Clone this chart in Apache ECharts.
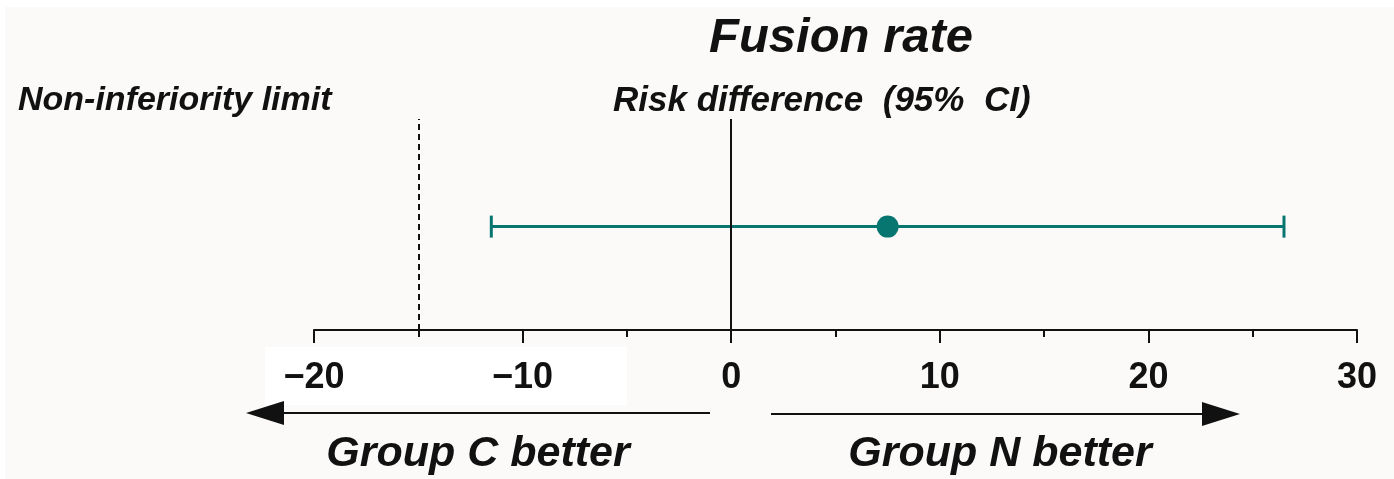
<!DOCTYPE html>
<html>
<head>
<meta charset="utf-8">
<script src="https://cdn.jsdelivr.net/npm/echarts@6/dist/echarts.min.js"></script>
<style>
  html, body { margin: 0; padding: 0; background: #ffffff; }
  #chart { width: 1394px; height: 479px; }
</style>
</head>
<body>
<div id="chart"></div>
<script>
// forest-plot style data (risk difference, %)
const rowNames = ['Fusion rate'];
const estimates = [7.5];
const ciLower = [-11.5];
const ciUpper = [26.5];
const rowY = [0.49];
const nonInferiorityLimit = [-15];
const axisTicks = [-20, -10, 0, 10, 20, 30];

const teal = '#087670';
const FONT = '"Liberation Sans", Arial, sans-serif';

const chart = echarts.init(document.getElementById('chart'), null, { renderer: 'canvas' });

const errorData = rowY.map((y, i) => [ciLower[i], ciUpper[i], y]);
const pointData = rowY.map((y, i) => [estimates[i], y]);

const option = {
  backgroundColor: '#ffffff',
  animation: false,
  title: {
    text: rowNames[0],
    left: 836,
    top: 9,
    textAlign: 'center',
    textStyle: {
      fontFamily: FONT,
      fontSize: 49,
      fontWeight: 'bold',
      fontStyle: 'italic',
      color: '#111',
    },
  },
  grid: {
    left: 314,
    right: 37,
    top: 119,
    bottom: 149,
  },
  xAxis: {
    type: 'value',
    min: axisTicks[0],
    max: axisTicks[axisTicks.length - 1],
    interval: 10,
    axisLine: { show: true, onZero: false, lineStyle: { color: '#111', width: 2 } },
    axisTick: { show: true, length: 13, lineStyle: { color: '#111', width: 2 } },
    minorTick: { show: true, splitNumber: 2, length: 7, lineStyle: { color: '#111', width: 2 } },
    splitLine: { show: false },
    axisLabel: {
      margin: 30,
      fontFamily: FONT,
      fontSize: 36,
      fontWeight: 'bold',
      color: '#111',
      formatter: (v) => (v < 0 ? '\u2212' + Math.abs(v) : String(v)),
    },
  },
  yAxis: {
    type: 'value',
    min: 0,
    max: 1,
    show: false,
  },
  series: [
    {
      name: 'reference lines',
      type: 'line',
      data: [],
      markLine: {
        silent: true,
        symbol: 'none',
        label: { show: false },
        data: [
          { xAxis: 0, lineStyle: { color: '#111', width: 2, type: 'solid' } },
          { xAxis: nonInferiorityLimit[0], lineStyle: { color: '#111', width: 2, type: [6, 4] } },
        ],
      },
    },
    {
      name: 'CI',
      type: 'custom',
      data: errorData,
      renderItem: (params, api) => {
        const lo = api.coord([api.value(0), api.value(2)]);
        const hi = api.coord([api.value(1), api.value(2)]);
        const cap = 11;
        const style = { stroke: teal, lineWidth: 3 };
        return {
          type: 'group',
          children: [
            { type: 'line', shape: { x1: lo[0], y1: lo[1], x2: hi[0], y2: hi[1] }, style },
            { type: 'line', shape: { x1: lo[0], y1: lo[1] - cap, x2: lo[0], y2: lo[1] + cap }, style },
            { type: 'line', shape: { x1: hi[0], y1: hi[1] - cap, x2: hi[0], y2: hi[1] + cap }, style },
          ],
        };
      },
      z: 3,
    },
    {
      name: 'Estimate',
      type: 'scatter',
      data: pointData,
      symbol: 'circle',
      symbolSize: 22,
      itemStyle: { color: teal, opacity: 1 },
      z: 4,
    },
  ],
  graphic: [
    { type: 'rect', z: -10, shape: { x: 5, y: 7, width: 1389, height: 472 }, style: { fill: '#fcfaf9' } },
    { type: 'rect', z: -5, shape: { x: 265, y: 347, width: 362, height: 58 }, style: { fill: '#ffffff' } },
    {
      type: 'text', x: 18, y: 101,
      style: { text: 'Non-inferiority limit', font: 'italic bold 34px ' + FONT, fill: '#111', textVerticalAlign: 'middle' },
    },
    {
      type: 'text', x: 613, y: 101,
      style: { text: 'Risk difference  (95%  CI)', font: 'italic bold 35px ' + FONT, fill: '#111', textVerticalAlign: 'middle' },
    },
    // arrows
    { type: 'line', shape: { x1: 280, y1: 413, x2: 710, y2: 413 }, style: { stroke: '#111', lineWidth: 2 } },
    { type: 'polygon', shape: { points: [[246, 413], [284, 401], [284, 425]] }, style: { fill: '#111' } },
    { type: 'line', shape: { x1: 771, y1: 414, x2: 1205, y2: 414 }, style: { stroke: '#111', lineWidth: 2 } },
    { type: 'polygon', shape: { points: [[1240, 414], [1202, 402], [1202, 426]] }, style: { fill: '#111' } },
    {
      type: 'text', x: 478, y: 454,
      style: { text: 'Group C better', font: 'italic bold 43px ' + FONT, fill: '#111', textAlign: 'center', textVerticalAlign: 'middle' },
    },
    {
      type: 'text', x: 1000, y: 454,
      style: { text: 'Group N better', font: 'italic bold 43px ' + FONT, fill: '#111', textAlign: 'center', textVerticalAlign: 'middle' },
    },
  ],
};

chart.setOption(option);
</script>
</body>
</html>
